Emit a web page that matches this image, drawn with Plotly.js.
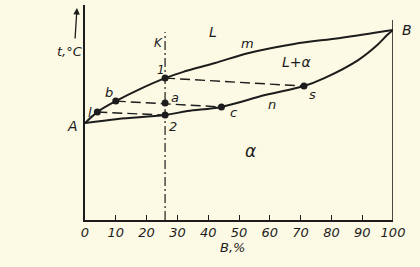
<!DOCTYPE html>
<html><head><meta charset="utf-8">
<script src="https://cdn.plot.ly/plotly-3.0.1.min.js"></script>
<style>html,body{margin:0;padding:0;background:#fcfae4}</style>
</head><body><div id="c" style="width:420px;height:267px"></div>
<script>
// liquidus (upper curve, "m") and solidus (lower curve, "n"): composition %B vs temperature (relative units)
const liqX = [0, 4, 10, 17.8, 26, 31.7, 42.2, 53.2, 67.9, 82.9, 100];
const liqT = [45.1, 50.2, 55.3, 60.9, 66.0, 68.8, 73.0, 77.7, 81.9, 84.7, 88.4];
const solX = [0, 10.7, 26, 33.3, 44.3, 58.5, 71.1, 77.7, 88.7, 94.9, 98.1, 100];
const solT = [45.1, 47.0, 48.8, 50.7, 52.6, 58.1, 62.3, 66.0, 74.4, 81.4, 86.0, 88.4];
// marked points
const ptLabels = ['l', 'b', '1', 'a', '2', 'c', 's'];
const ptX = [4, 10, 26, 26, 26, 44.3, 71.1];
const ptT = [50.2, 55.3, 66.0, 54.4, 48.8, 52.6, 62.3];
// tie lines (dashed): pairs of point indices
const ties = [[0, 4], [1, 5], [2, 6]];
// alloy K vertical
const alloyK = 26;
const alloyKTop = 87.4;
const rightAxisTop = 93;
// x ticks
const tickVals = [0, 10, 20, 30, 40, 50, 60, 70, 80, 90, 100];
const tickText = ['0', '10', '20', '30', '40', '50', '60', '70', '80', '90', '100'];

const ink = '#1c1c1c';
const bg = '#fcfae4';
const traces = [];
traces.push({x: liqX, y: liqT, mode: 'lines', line: {color: ink, width: 2, shape: 'spline'}, hoverinfo: 'skip'});
traces.push({x: solX, y: solT, mode: 'lines', line: {color: ink, width: 2, shape: 'spline'}, hoverinfo: 'skip'});
ties.forEach(([i, j]) => traces.push({x: [ptX[i], ptX[j]], y: [ptT[i], ptT[j]], mode: 'lines',
  line: {color: ink, width: 1.4, dash: '10px,5px'}, hoverinfo: 'skip'}));
traces.push({x: [alloyK, alloyK], y: [0, alloyKTop], mode: 'lines',
  line: {color: ink, width: 1.2, dash: '9px,3px,2px,3px'}, hoverinfo: 'skip'});
traces.push({x: [100, 100], y: [0, rightAxisTop], mode: 'lines', line: {color: ink, width: 1.6}, hoverinfo: 'skip', cliponaxis: false});
traces.push({x: ptX, y: ptT, mode: 'markers', marker: {color: ink, size: 7}, hoverinfo: 'skip'});

const f = (s) => ({family: 'DejaVu Sans', size: s, color: ink, style: 'italic'});
function lab(text, x, y, s) { return {text, x, y, xref: 'x', yref: 'y', xanchor: 'center', yanchor: 'middle', showarrow: false, font: f(s || 13)}; }
function plab(text, x, y, s) { return {text, x, y, xref: 'paper', yref: 'paper', xanchor: 'center', yanchor: 'middle', showarrow: false, font: f(s || 13)}; }
const annotations = [
  plab('A', -0.042, 0.437, 14), plab('B', 1.045, 0.884, 14),
  lab('L', 41.6, 87.4, 14), lab('m', 52.9, 82.3, 13), lab('L+α', 68.8, 73.5, 14),
  lab('α', 53.6, 32.1, 17), lab('K', 23.7, 82.3, 12), lab('n', 60.7, 53.5, 13),
  lab('1', 24.7, 69.8, 12), lab('b', 7.8, 59.5, 13), lab('a', 29.2, 57.2, 13),
  lab('2', 28.6, 43.7, 13), lab('l', 1.6, 49.8, 13), lab('c', 48.1, 50.2, 13), lab('s', 74.0, 58.6, 13),
  plab('t,°C', -0.049, 0.786, 13),
  plab('B,%', 0.48, -0.13, 13),
  {x: -0.026, y: 0.986, xref: 'paper', yref: 'paper', ax: -2, ay: 32, text: '', showarrow: true,
   arrowhead: 2, arrowsize: 1, arrowwidth: 1.3, arrowcolor: ink}
];

const layout = {
  width: 420, height: 267,
  margin: {l: 85, r: 27, t: 5, b: 47},
  paper_bgcolor: bg, plot_bgcolor: bg,
  showlegend: false,
  xaxis: {range: [0, 100], showgrid: false, zeroline: false, showline: true, linecolor: ink, linewidth: 1.6,
    ticks: 'inside', ticklen: 5, tickwidth: 1, tickcolor: ink, tickvals: tickVals, ticktext: tickText,
    tickfont: f(13), fixedrange: true},
  yaxis: {range: [0, 100], showgrid: false, zeroline: false, showline: true, linecolor: ink, linewidth: 1.6,
    showticklabels: false, ticks: '', fixedrange: true},
  annotations
};
Plotly.newPlot('c', traces, layout, {displayModeBar: false, staticPlot: true});
</script></body></html>
